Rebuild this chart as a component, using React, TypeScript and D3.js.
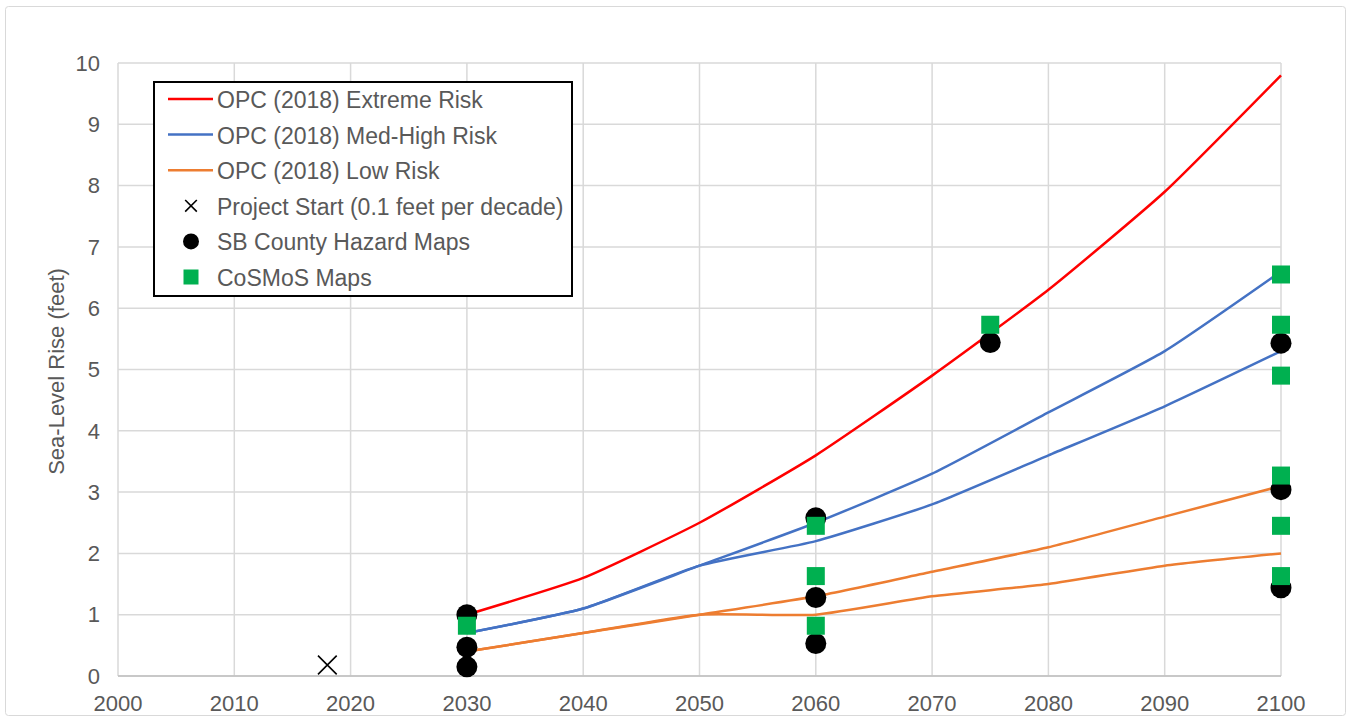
import * as d3 from 'd3';
import { useRef, useEffect } from 'react';

// years for the OPC projection curves
const years = [2030, 2040, 2050, 2060, 2070, 2080, 2090, 2100];
const extremeRisk = [1.0, 1.6, 2.5, 3.6, 4.9, 6.3, 7.9, 9.8];
const medHighRiskA = [0.7, 1.1, 1.8, 2.5, 3.3, 4.3, 5.3, 6.6];
const medHighRiskB = [0.7, 1.1, 1.8, 2.2, 2.8, 3.6, 4.4, 5.3];
const lowRiskA = [0.4, 0.7, 1.0, 1.3, 1.7, 2.1, 2.6, 3.1];
const lowRiskB = [0.4, 0.7, 1.0, 1.0, 1.3, 1.5, 1.8, 2.0];

const projectStart: [number, number][] = [[2018, 0.18]];
const sbCounty: [number, number][] = [
	[2030, 1.0], [2030, 0.47], [2030, 0.15],
	[2060, 2.58], [2060, 1.28], [2060, 0.53],
	[2075, 5.44],
	[2100, 5.43], [2100, 3.04], [2100, 1.44],
];
const cosmos: [number, number][] = [
	[2030, 0.82],
	[2060, 2.45], [2060, 1.63], [2060, 0.82],
	[2075, 5.73],
	[2100, 6.55], [2100, 5.73], [2100, 4.9], [2100, 3.27], [2100, 2.45], [2100, 1.63],
];

const xTicks = d3.range(2000, 2101, 10);
const yTicks = d3.range(0, 11, 1);

const legendLabels = [
	'OPC (2018) Extreme Risk',
	'OPC (2018) Med-High Risk',
	'OPC (2018) Low Risk',
	'Project Start (0.1 feet per decade)',
	'SB County Hazard Maps',
	'CoSMoS Maps',
];

const RED = '#ff0000';
const BLUE = '#4472c4';
const ORANGE = '#ed7d31';
const GREEN = '#00b050';
const TEXT = '#595959';
const FONT = '"Liberation Sans", Arial, sans-serif';

const Chart = () => {
	const W = 1349;
	const H = 719;
	const margin = { top: 63, right: 68, bottom: 43, left: 118 };
	const width = W - margin.left - margin.right;
	const height = H - margin.top - margin.bottom;
	const ref: any = useRef();

	useEffect(() => {
		const svg = d3.select(ref.current);
		svg.selectAll('*').remove();

		// outer chart border
		svg.append('rect')
			.attr('x', 5.5).attr('y', 6.5)
			.attr('width', 1340).attr('height', 709)
			.attr('rx', 3)
			.attr('fill', '#fff')
			.attr('stroke', '#d9d9d9');

		const x = d3.scaleLinear().domain([2000, 2100]).range([0, width]);
		const y = d3.scaleLinear().domain([0, 10]).range([height, 0]);

		const g = svg.append('g').attr('transform', `translate(${margin.left},${margin.top})`);

		// grid
		g.append('g')
			.selectAll('line')
			.data(yTicks)
			.enter().append('line')
			.attr('x1', 0).attr('x2', width)
			.attr('y1', d => y(d)).attr('y2', d => y(d))
			.attr('stroke', '#d9d9d9').attr('stroke-width', 1.5);
		g.append('g')
			.selectAll('line')
			.data(xTicks)
			.enter().append('line')
			.attr('x1', d => x(d)).attr('x2', d => x(d))
			.attr('y1', 0).attr('y2', height)
			.attr('stroke', '#d9d9d9').attr('stroke-width', 1.5);
		g.append('line')
			.attr('x1', 0).attr('x2', width)
			.attr('y1', height).attr('y2', height)
			.attr('stroke', '#bfbfbf').attr('stroke-width', 1.5);

		// tick labels
		g.append('g')
			.selectAll('text')
			.data(yTicks)
			.enter().append('text')
			.attr('x', -18).attr('y', d => y(d))
			.attr('dy', '0.35em')
			.attr('text-anchor', 'end')
			.attr('font-family', FONT).attr('font-size', 22)
			.attr('fill', TEXT)
			.text(d => d);
		g.append('g')
			.selectAll('text')
			.data(xTicks)
			.enter().append('text')
			.attr('x', d => x(d)).attr('y', height + 27)
			.attr('dy', '0.35em')
			.attr('text-anchor', 'middle')
			.attr('font-family', FONT).attr('font-size', 22)
			.attr('fill', TEXT)
			.text(d => d);

		svg.append('text')
			.attr('transform', `translate(64,${margin.top + height / 2 + 2}) rotate(-90)`)
			.attr('text-anchor', 'middle')
			.attr('font-family', FONT).attr('font-size', 22)
			.attr('fill', TEXT)
			.text('Sea-Level Rise (feet)');

		// lines
		const line = d3.line<number>()
			.x((_, i) => x(years[i]))
			.y(d => y(d))
			.curve(d3.curveCardinal.tension(0.5));
		const series: [number[], string][] = [
			[lowRiskB, ORANGE], [lowRiskA, ORANGE],
			[medHighRiskB, BLUE], [medHighRiskA, BLUE],
			[extremeRisk, RED],
		];
		series.forEach(([vals, color]) => {
			g.append('path')
				.attr('d', line(vals))
				.attr('fill', 'none')
				.attr('stroke', color)
				.attr('stroke-width', 2.5);
		});

		// project start X
		const cross = d3.symbol().type(d3.symbolX).size(230);
		g.selectAll('.start')
			.data(projectStart)
			.enter().append('path')
			.attr('transform', d => `translate(${x(d[0])},${y(d[1])})`)
			.attr('d', cross())
			.attr('fill', 'none')
			.attr('stroke', '#000')
			.attr('stroke-width', 1.6);

		// circles then squares
		g.selectAll('.sb')
			.data(sbCounty)
			.enter().append('circle')
			.attr('cx', d => x(d[0])).attr('cy', d => y(d[1]))
			.attr('r', 10.5)
			.attr('fill', '#000');
		g.selectAll('.cosmos')
			.data(cosmos)
			.enter().append('rect')
			.attr('x', d => x(d[0]) - 9).attr('y', d => y(d[1]) - 9)
			.attr('width', 18).attr('height', 18)
			.attr('fill', GREEN);

		// legend
		const lg = svg.append('g').attr('transform', 'translate(154,82)');
		lg.append('rect')
			.attr('width', 418).attr('height', 214)
			.attr('fill', '#fff')
			.attr('stroke', '#000').attr('stroke-width', 2);
		const rowY = (i: number) => 17 + i * 35.6;
		legendLabels.forEach((label, i) => {
			const cy = rowY(i);
			const cx = 37;
			if (i < 3) {
				lg.append('line')
					.attr('x1', 14).attr('x2', 59)
					.attr('y1', cy).attr('y2', cy)
					.attr('stroke', [RED, BLUE, ORANGE][i])
					.attr('stroke-width', 2.5);
			} else if (i === 3) {
				lg.append('path')
					.attr('transform', `translate(${cx},${cy})`)
					.attr('d', d3.symbol().type(d3.symbolX).size(90)())
					.attr('fill', 'none').attr('stroke', '#000').attr('stroke-width', 1.6);
			} else if (i === 4) {
				lg.append('circle').attr('cx', cx).attr('cy', cy).attr('r', 8).attr('fill', '#000');
			} else {
				lg.append('rect').attr('x', cx - 7.5).attr('y', cy - 7.5)
					.attr('width', 15).attr('height', 15).attr('fill', GREEN);
			}
			lg.append('text')
				.attr('x', 63).attr('y', cy + 1)
				.attr('dy', '0.35em')
				.attr('font-family', FONT).attr('font-size', 23)
				.attr('fill', TEXT)
				.text(label);
		});
	}, []);

	return (
		<svg ref={ref} width={W} height={H} style={{ position: 'absolute', left: 0, top: 0 }}>
		</svg>
	);
};

export default function App() {
	return <Chart />;
}
